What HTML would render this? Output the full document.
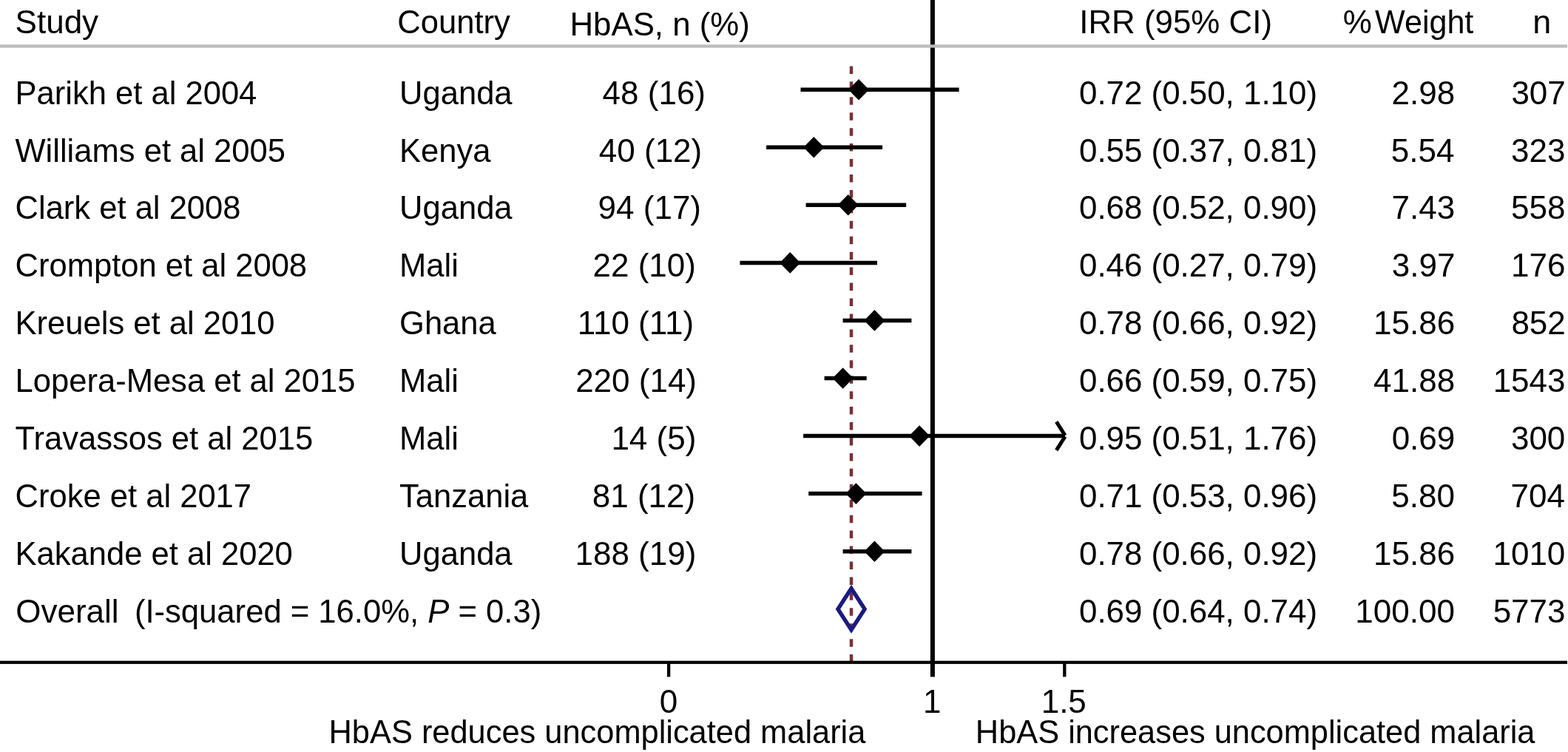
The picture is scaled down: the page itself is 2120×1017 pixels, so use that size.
<!DOCTYPE html>
<html><head><meta charset="utf-8"><title>Forest plot</title>
<style>
html,body{margin:0;padding:0;background:#fff;}
svg{display:block;}
text{font-family:'Liberation Sans', Arial, sans-serif;font-size:44.0px;fill:#000;}
</style></head>
<body>
<svg width="2120" height="1017" viewBox="0 0 2120 1017">
<rect width="2120" height="1017" fill="#fff"/>
<line x1='1151.0' y1='89.4' x2='1151.0' y2='894' stroke='#7b3036' stroke-width='4.5' stroke-dasharray='10.5 10.44'/>
<rect x='1257.9' y='0' width='6' height='915.4' fill='#000'/>
<line x1='1082.5' y1='121.2' x2='1296.6' y2='121.2' stroke='#000' stroke-width='5.5'/>
<polygon points='1161.0,106.9 1175.0,121.2 1161.0,135.5 1147.0,121.2' fill='#000'/>
<line x1='1036.1' y1='199.3' x2='1193.1' y2='199.3' stroke='#000' stroke-width='5.5'/>
<polygon points='1100.3,185.0 1114.3,199.3 1100.3,213.6 1086.3,199.3' fill='#000'/>
<line x1='1089.6' y1='277.3' x2='1225.2' y2='277.3' stroke='#000' stroke-width='5.5'/>
<polygon points='1146.7,263.0 1160.7,277.3 1146.7,291.6 1132.7,277.3' fill='#000'/>
<line x1='1000.4' y1='355.4' x2='1186.0' y2='355.4' stroke='#000' stroke-width='5.5'/>
<polygon points='1068.2,341.1 1082.2,355.4 1068.2,369.7 1054.2,355.4' fill='#000'/>
<line x1='1139.6' y1='433.4' x2='1232.4' y2='433.4' stroke='#000' stroke-width='5.5'/>
<polygon points='1182.4,419.1 1196.4,433.4 1182.4,447.7 1168.4,433.4' fill='#000'/>
<line x1='1114.6' y1='511.5' x2='1171.7' y2='511.5' stroke='#000' stroke-width='5.5'/>
<polygon points='1139.6,497.2 1153.6,511.5 1139.6,525.8 1125.6,511.5' fill='#000'/>
<line x1='1086.1' y1='589.6' x2='1440.0' y2='589.6' stroke='#000' stroke-width='5.5'/>
<polygon points='1243.1,575.3 1257.1,589.6 1243.1,603.9 1229.1,589.6' fill='#000'/>
<line x1='1440' y1='588.8' x2='1428.3' y2='570.4' stroke='#000' stroke-width='5'/>
<line x1='1440' y1='590.4' x2='1428.3' y2='608.8' stroke='#000' stroke-width='5'/>
<line x1='1093.2' y1='667.6' x2='1246.6' y2='667.6' stroke='#000' stroke-width='5.5'/>
<polygon points='1157.4,653.3 1171.4,667.6 1157.4,681.9 1143.4,667.6' fill='#000'/>
<line x1='1139.6' y1='745.7' x2='1232.4' y2='745.7' stroke='#000' stroke-width='5.5'/>
<polygon points='1182.4,731.4 1196.4,745.7 1182.4,760.0 1168.4,745.7' fill='#000'/>
<polygon points='1151.0,795.7 1169.1,823.7 1151.0,851.7 1132.9,823.7' fill='none' stroke='#1a1a80' stroke-width='5.4' stroke-linejoin='miter'/>
<rect x='0' y='893.7' width='2119' height='4.2' fill='#000'/>
<rect x='901.95' y='895' width='4.3' height='20.4' fill='#000'/>
<rect x='1437.15' y='895' width='4.3' height='20.4' fill='#000'/>
<rect x='0' y='60.3' width='2119' height='4.3' fill='#bdbdbd'/>
<text transform='translate(20.60,44.70) scale(1.0000,1.0)' xml:space='preserve'>Study</text>
<text transform='translate(537.18,44.70) scale(0.9918,1.0)' xml:space='preserve'>Country</text>
<text transform='translate(770.51,47.60) scale(0.9951,1.0)' xml:space='preserve'>HbAS, n (%)</text>
<text transform='translate(1459.25,44.70) scale(0.9972,1.0)' xml:space='preserve'>IRR (95% CI)</text>
<text transform='translate(1815.63,44.70) scale(1.0000,1.0)' xml:space='preserve'>%</text>
<text transform='translate(1859.11,44.70) scale(0.9786,1.0)' xml:space='preserve'>Weight</text>
<text transform='translate(2072.21,44.70) scale(1.0219,1.0)' xml:space='preserve'>n</text>
<text transform='translate(20.54,140.60) scale(0.9900,1.0)' xml:space='preserve'>Parikh et al 2004</text>
<text transform='translate(540.03,140.60) scale(0.9900,1.0)' xml:space='preserve'>Uganda</text>
<text transform='translate(814.62,140.60) scale(1.0000,1.02)' xml:space='preserve'>48 (16)</text>
<text transform='translate(1458.99,140.60) scale(0.9977,1.02)' xml:space='preserve'>0.72 (0.50, 1.10)</text>
<text transform='translate(1881.48,140.60) scale(1.0000,1.02)' xml:space='preserve'>2.98</text>
<text transform='translate(2043.40,140.60) scale(1.0000,1.02)' xml:space='preserve'>307</text>
<text transform='translate(20.50,218.54) scale(0.9900,1.0)' xml:space='preserve'>Williams et al 2005</text>
<text transform='translate(540.04,218.54) scale(0.9900,1.0)' xml:space='preserve'>Kenya</text>
<text transform='translate(809.82,218.54) scale(1.0000,1.02)' xml:space='preserve'>40 (12)</text>
<text transform='translate(1458.99,218.54) scale(0.9977,1.02)' xml:space='preserve'>0.55 (0.37, 0.81)</text>
<text transform='translate(1880.85,218.54) scale(1.0000,1.02)' xml:space='preserve'>5.54</text>
<text transform='translate(2043.12,218.54) scale(1.0000,1.02)' xml:space='preserve'>323</text>
<text transform='translate(20.52,296.48) scale(0.9900,1.0)' xml:space='preserve'>Clark et al 2008</text>
<text transform='translate(540.03,296.48) scale(0.9900,1.0)' xml:space='preserve'>Uganda</text>
<text transform='translate(808.62,296.48) scale(1.0000,1.02)' xml:space='preserve'>94 (17)</text>
<text transform='translate(1458.99,296.48) scale(0.9977,1.02)' xml:space='preserve'>0.68 (0.52, 0.90)</text>
<text transform='translate(1881.50,296.48) scale(1.0000,1.02)' xml:space='preserve'>7.43</text>
<text transform='translate(2043.10,296.48) scale(1.0000,1.02)' xml:space='preserve'>558</text>
<text transform='translate(20.52,374.42) scale(0.9900,1.0)' xml:space='preserve'>Crompton et al 2008</text>
<text transform='translate(540.04,374.42) scale(0.9900,1.0)' xml:space='preserve'>Mali</text>
<text transform='translate(801.52,374.42) scale(1.0000,1.02)' xml:space='preserve'>22 (10)</text>
<text transform='translate(1458.99,374.42) scale(0.9977,1.02)' xml:space='preserve'>0.46 (0.27, 0.79)</text>
<text transform='translate(1881.78,374.42) scale(1.0000,1.02)' xml:space='preserve'>3.97</text>
<text transform='translate(2043.12,374.42) scale(1.0000,1.02)' xml:space='preserve'>176</text>
<text transform='translate(20.54,452.36) scale(0.9900,1.0)' xml:space='preserve'>Kreuels et al 2010</text>
<text transform='translate(540.02,452.36) scale(0.9900,1.0)' xml:space='preserve'>Ghana</text>
<text transform='translate(780.75,452.36) scale(1.0000,1.02)' xml:space='preserve'>110 (11)</text>
<text transform='translate(1458.99,452.36) scale(0.9977,1.02)' xml:space='preserve'>0.78 (0.66, 0.92)</text>
<text transform='translate(1857.03,452.36) scale(1.0000,1.02)' xml:space='preserve'>15.86</text>
<text transform='translate(2043.40,452.36) scale(1.0000,1.02)' xml:space='preserve'>852</text>
<text transform='translate(20.54,530.30) scale(0.9900,1.0)' xml:space='preserve'>Lopera-Mesa et al 2015</text>
<text transform='translate(540.04,530.30) scale(0.9900,1.0)' xml:space='preserve'>Mali</text>
<text transform='translate(778.15,530.30) scale(1.0000,1.02)' xml:space='preserve'>220 (14)</text>
<text transform='translate(1458.99,530.30) scale(0.9977,1.02)' xml:space='preserve'>0.66 (0.59, 0.75)</text>
<text transform='translate(1857.00,530.30) scale(1.0000,1.02)' xml:space='preserve'>41.88</text>
<text transform='translate(2018.65,530.30) scale(1.0000,1.02)' xml:space='preserve'>1543</text>
<text transform='translate(20.51,608.24) scale(0.9900,1.0)' xml:space='preserve'>Travassos et al 2015</text>
<text transform='translate(540.04,608.24) scale(0.9900,1.0)' xml:space='preserve'>Mali</text>
<text transform='translate(826.39,608.24) scale(1.0000,1.02)' xml:space='preserve'>14 (5)</text>
<text transform='translate(1458.99,608.24) scale(0.9977,1.02)' xml:space='preserve'>0.95 (0.51, 1.76)</text>
<text transform='translate(1881.65,608.24) scale(1.0000,1.02)' xml:space='preserve'>0.69</text>
<text transform='translate(2042.91,608.24) scale(1.0000,1.02)' xml:space='preserve'>300</text>
<text transform='translate(20.52,686.18) scale(0.9900,1.0)' xml:space='preserve'>Croke et al 2017</text>
<text transform='translate(540.01,686.18) scale(0.9900,1.0)' xml:space='preserve'>Tanzania</text>
<text transform='translate(800.72,686.18) scale(1.0000,1.02)' xml:space='preserve'>81 (12)</text>
<text transform='translate(1458.99,686.18) scale(0.9977,1.02)' xml:space='preserve'>0.71 (0.53, 0.96)</text>
<text transform='translate(1881.28,686.18) scale(1.0000,1.02)' xml:space='preserve'>5.80</text>
<text transform='translate(2042.48,686.18) scale(1.0000,1.02)' xml:space='preserve'>704</text>
<text transform='translate(20.54,764.12) scale(0.9900,1.0)' xml:space='preserve'>Kakande et al 2020</text>
<text transform='translate(540.03,764.12) scale(0.9900,1.0)' xml:space='preserve'>Uganda</text>
<text transform='translate(777.45,764.12) scale(1.0000,1.02)' xml:space='preserve'>188 (19)</text>
<text transform='translate(1458.99,764.12) scale(0.9977,1.02)' xml:space='preserve'>0.78 (0.66, 0.92)</text>
<text transform='translate(1857.03,764.12) scale(1.0000,1.02)' xml:space='preserve'>15.86</text>
<text transform='translate(2018.44,764.12) scale(1.0000,1.02)' xml:space='preserve'>1010</text>
<text transform='translate(21.22,842.06) scale(1.0000,1.0)' xml:space='preserve'>Overall</text>
<text transform='translate(181.90,842.06) scale(0.9914,1.0)' xml:space='preserve'>(I-squared = 16.0%, <tspan font-style='italic'>P</tspan> = 0.3)</text>
<text transform='translate(1458.99,842.06) scale(0.9977,1.02)' xml:space='preserve'>0.69 (0.64, 0.74)</text>
<text transform='translate(1832.34,842.06) scale(1.0000,1.02)' xml:space='preserve'>100.00</text>
<text transform='translate(2018.65,842.06) scale(1.0000,1.02)' xml:space='preserve'>5773</text>
<text transform='translate(891.86,963.50) scale(1.0000,1.02)' xml:space='preserve'>0</text>
<text transform='translate(1248.06,963.50) scale(1.0000,1.02)' xml:space='preserve'>1</text>
<text transform='translate(1407.67,963.50) scale(1.0000,1.02)' xml:space='preserve'>1.5</text>
<text transform='translate(444.54,1004.50) scale(0.9862,1.0)' xml:space='preserve'>HbAS reduces uncomplicated malaria</text>
<text transform='translate(1318.84,1004.50) scale(0.9855,1.0)' xml:space='preserve'>HbAS increases uncomplicated malaria</text>
</svg>
</body></html>
